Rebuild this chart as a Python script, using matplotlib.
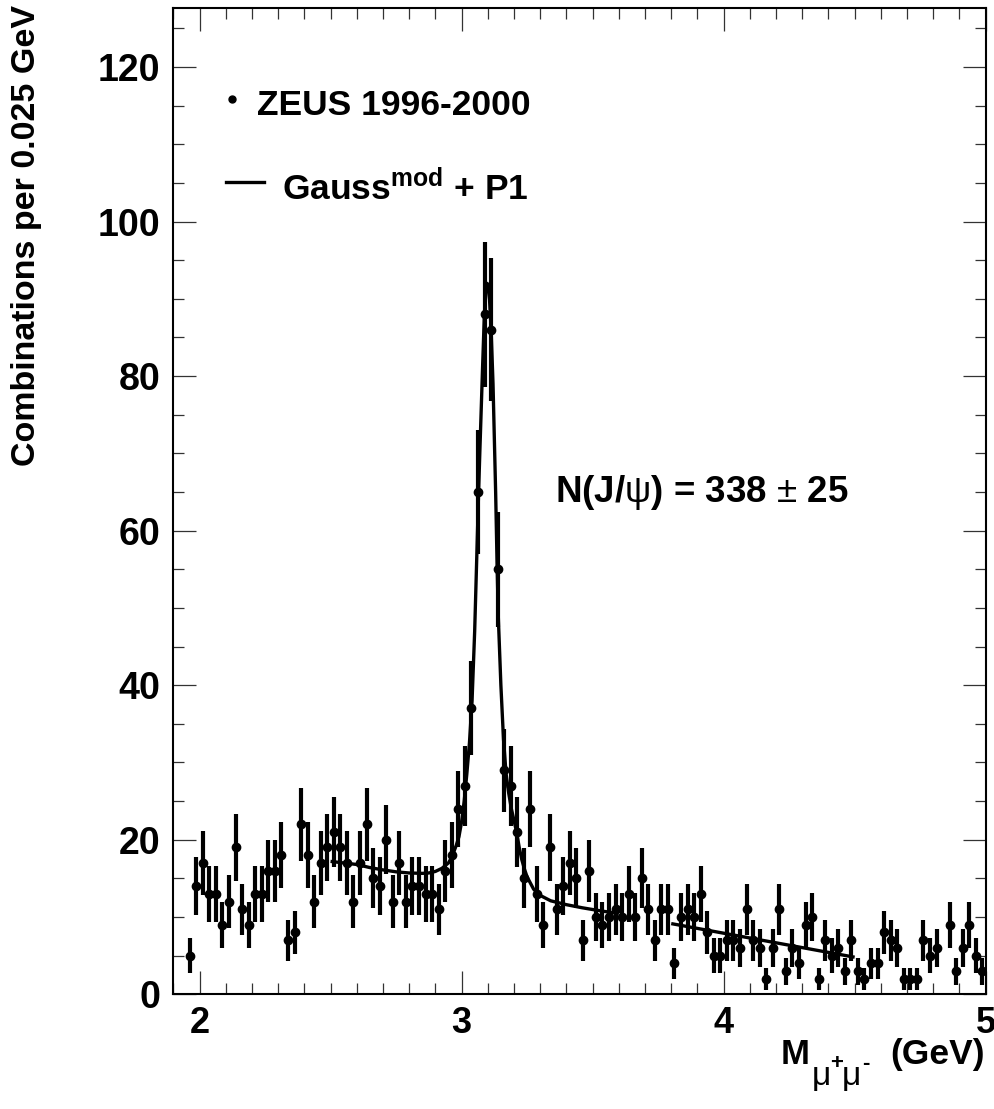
import numpy as np
import matplotlib
matplotlib.use("Agg")
import matplotlib.pyplot as plt
from matplotlib.lines import Line2D
from matplotlib.ticker import MultipleLocator

plt.rcParams['font.family'] = ['Liberation Sans', 'DejaVu Sans']
plt.rcParams['mathtext.fontset'] = 'custom'
plt.rcParams['mathtext.rm'] = 'Liberation Sans'
plt.rcParams['mathtext.bf'] = 'Liberation Sans:bold'
plt.rcParams['mathtext.it'] = 'Liberation Sans:italic'
plt.rcParams['mathtext.sf'] = 'Liberation Sans'

# ---- data: dimuon invariant mass, 0.025 GeV bins from 1.9 to 5.0 GeV ----
bin_low = 1.9
bin_width = 0.025
counts = [0, 0, 5, 14, 17, 13, 13, 9, 12, 19, 11, 9, 13, 13, 16, 16, 18, 7, 8, 22,
          18, 12, 17, 19, 21, 19, 17, 12, 17, 22, 15, 14, 20, 12, 17, 12, 14, 14, 13, 13,
          11, 16, 18, 24, 27, 37, 65, 88, 86, 55, 29, 27, 21, 15, 24, 13, 9, 19, 11, 14,
          17, 15, 7, 16, 10, 9, 10, 11, 10, 13, 10, 15, 11, 7, 11, 11, 4, 10, 11, 10,
          13, 8, 5, 5, 7, 7, 6, 11, 7, 6, 2, 6, 11, 3, 6, 4, 9, 10, 2, 7,
          5, 6, 3, 7, 3, 2, 4, 4, 8, 7, 6, 2, 2, 2, 7, 5, 6, 0, 9, 3,
          6, 9, 5, 3]

# fit curve (Gauss^mod + P1); psi' region 3.6-3.8 excluded
fit_low_x = [2.50, 2.55, 2.60, 2.65, 2.70, 2.75, 2.80, 2.85, 2.875, 2.90, 2.925,
             2.95, 2.96, 2.97, 2.98, 2.99, 3.00, 3.01, 3.02, 3.03, 3.04, 3.05,
             3.06, 3.065, 3.07, 3.08, 3.087, 3.093, 3.098, 3.105, 3.1127, 3.12,
             3.13, 3.1356, 3.14, 3.15, 3.16, 3.17, 3.18, 3.19, 3.20, 3.21, 3.22,
             3.23, 3.24, 3.25, 3.275, 3.30, 3.34, 3.40, 3.46, 3.53, 3.60]
fit_low_y = [17.2, 17.0, 16.8, 16.4, 16.1, 15.85, 15.7, 15.65, 15.7, 15.9, 16.3,
             17.0, 17.6, 18.4, 19.3, 20.4, 22.3, 25.0, 28.5, 32.5, 38.0, 47.0,
             59.0, 65.0, 70.5, 81.0, 88.0, 91.0, 92.0, 91.0, 86.0, 79.0,
             65.0, 55.5, 49.0, 40.0, 33.0, 28.5, 26.0, 24.0, 22.5, 21.0, 19.0,
             17.4, 16.2, 15.2, 13.6, 12.8, 12.1, 11.6, 11.2, 10.8, 10.45]
fit_high_x = [3.80, 4.50]
fit_high_y = [9.15, 4.8]

xticks = [2, 3, 4, 5]
yticks = [0, 20, 40, 60, 80, 100, 120]

# ---- figure ----
W, H = 995, 1109
fig = plt.figure(figsize=(W / 100, H / 100), dpi=100)
L, R, T, B = 173.3, 985.7, 8.3, 994.3
ax = fig.add_axes([L / W, 1 - B / H, (R - L) / W, (B - T) / H])

counts = np.array(counts, dtype=float)
centers = bin_low + bin_width * (np.arange(len(counts)) + 0.5)
mask = counts > 0
ax.errorbar(centers[mask], counts[mask], yerr=np.sqrt(counts[mask]),
            fmt='o', color='black', ms=6.0, elinewidth=3.0, capsize=0,
            zorder=3)

ax.plot(fit_low_x, fit_low_y, color='black', lw=2.4, zorder=4,
        solid_capstyle='butt')
ax.plot(fit_high_x, fit_high_y, color='black', lw=2.4, zorder=4,
        solid_capstyle='butt')

ax.set_xlim(1.9, 5.0)
ax.set_ylim(0, 127.6)
ax.set_xticks(xticks)
ax.set_yticks(yticks)
ax.xaxis.set_minor_locator(MultipleLocator(0.1))
ax.yaxis.set_minor_locator(MultipleLocator(5))
ax.tick_params(which='both', direction='in', top=True, right=True,
               width=0.9, color='#333333')
ax.tick_params(which='major', length=16.5)
ax.tick_params(which='minor', length=8.0)
ax.tick_params(axis='y', which='major', pad=9.4, labelsize=27)
ax.tick_params(axis='x', which='major', pad=8.5, labelsize=26)
for lab in ax.get_xticklabels() + ax.get_yticklabels():
    lab.set_fontweight('bold')
for sp in ax.spines.values():
    sp.set_linewidth(1.5)

# y axis title
fig.text(27 / W, 1 - 5 / H, 'Combinations per 0.025 GeV', rotation=90,
         ha='center', va='top', fontsize=24.5, fontweight='bold')

# x axis title, built from pieces so the subscripts match the original
def px(x, y):
    return x / W, 1 - y / H

fig.text(*px(781, 1064), 'M', ha='left', va='baseline', fontsize=25,
         fontweight='bold')
fig.text(*px(812, 1085), '\u03bc', ha='left', va='baseline', fontsize=24)
fig.text(*px(830, 1069), '+', ha='left', va='baseline', fontsize=16,
         fontweight='bold')
fig.text(*px(842, 1085), '\u03bc', ha='left', va='baseline', fontsize=24)
fig.text(*px(862, 1069), '-', ha='left', va='baseline', fontsize=16,
         fontweight='bold')
fig.text(*px(985, 1064), '(GeV)', ha='right', va='baseline', fontsize=25.5,
         fontweight='bold')

# legend
fig.add_artist(Line2D([232 / W], [1 - 99.3 / H], marker='o', ms=5,
                      color='black', linestyle='none'))
fig.text(*px(257, 115), 'ZEUS 1996-2000', ha='left', va='baseline',
         fontsize=25.5, fontweight='bold')
fig.add_artist(Line2D([226 / W, 264 / W], [1 - 182.3 / H, 1 - 182.3 / H],
                      color='black', lw=2.4))
fig.text(*px(281.7, 200), r'Gauss$^{\mathbf{mod}}$ + P1', ha='left',
         va='baseline', fontsize=25.5, fontweight='bold')

# yield annotation
fig.text(*px(555, 502), r'N(J/$\mathrm{\psi}$) = 338 $\mathrm{\pm}$ 25',
         ha='left', va='baseline', fontsize=26.5, fontweight='bold')

fig.savefig('out.png', dpi=100)
